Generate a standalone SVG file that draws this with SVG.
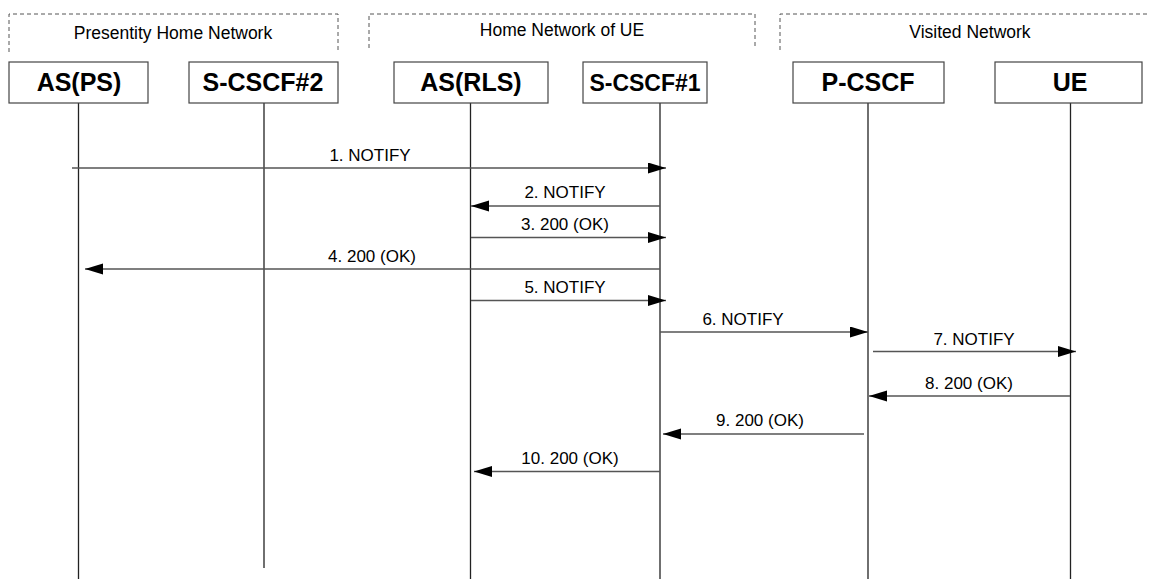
<svg xmlns="http://www.w3.org/2000/svg" width="1149" height="579" viewBox="0 0 1149 579">
<style>
.net{fill:none;stroke:#555;stroke-width:1;stroke-dasharray:4,3}
.nt{font-family:"Liberation Sans",Arial,sans-serif;font-size:17.5px;fill:#000;text-anchor:middle}
.box{fill:#fff;stroke:#444;stroke-width:1.2}
.nl{font-family:"Liberation Sans",Arial,sans-serif;font-size:25px;font-weight:bold;fill:#000;text-anchor:middle}
.life{stroke:#222;stroke-width:1.3}
.msg{stroke:#555;stroke-width:1.6;fill:none;marker-end:url(#ah)}
.ml{font-family:"Liberation Sans",Arial,sans-serif;font-size:17px;fill:#000;text-anchor:middle}
</style>
<defs>
<marker id="ah" markerUnits="userSpaceOnUse" markerWidth="18" markerHeight="12" refX="18" refY="5.5" orient="auto">
<path d="M0,0 L18,5.5 L0,11 z" fill="#000"/>
</marker>
</defs>
<rect width="1149" height="579" fill="#fff"/>
<g id="networks">
<path class="net" d="M9,52 V14 H338 V52"/>
<text class="nt" x="173" y="39">Presentity Home Network</text>
<path class="net" d="M369,48 V14 H755 V48"/>
<text class="nt" x="562" y="36">Home Network of UE</text>
<path class="net" d="M780,50 V14 H1149"/>
<text class="nt" x="970" y="38">Visited Network</text>
</g>
<g id="lifelines">
<line class="life" x1="78.5" y1="103" x2="78.5" y2="579"/>
<line class="life" x1="264" y1="103" x2="264" y2="568"/>
<line class="life" x1="470.5" y1="103" x2="470.5" y2="579"/>
<line class="life" x1="660" y1="103" x2="660" y2="579"/>
<line class="life" x1="868" y1="103" x2="868" y2="579"/>
<line class="life" x1="1070.5" y1="103" x2="1070.5" y2="579"/>
</g>
<g id="AS_PS"><rect class="box" x="9" y="62" width="139" height="41"/><text class="nl" x="79" y="91">AS(PS)</text></g>
<g id="S_CSCF2"><rect class="box" x="189" y="62" width="149" height="41"/><text class="nl" x="263" y="91">S-CSCF#2</text></g>
<g id="AS_RLS"><rect class="box" x="394" y="62" width="154" height="41"/><text class="nl" x="471" y="91">AS(RLS)</text></g>
<g id="S_CSCF1"><rect class="box" x="583" y="62" width="124" height="41"/><text class="nl" x="645" y="91" style="font-size:23px">S-CSCF#1</text></g>
<g id="P_CSCF"><rect class="box" x="793" y="62" width="151" height="41"/><text class="nl" x="868" y="91">P-CSCF</text></g>
<g id="UE"><rect class="box" x="995" y="62" width="147" height="41"/><text class="nl" x="1070" y="91">UE</text></g>
<g id="connectors">
<line class="msg" x1="72" y1="168" x2="666" y2="168"/>
<text class="ml" x="370" y="161">1. NOTIFY</text>
<line class="msg" x1="660" y1="206" x2="471" y2="206"/>
<text class="ml" x="565" y="198">2. NOTIFY</text>
<line class="msg" x1="471" y1="237.5" x2="666" y2="237.5"/>
<text class="ml" x="565" y="230">3. 200 (OK)</text>
<line class="msg" x1="660" y1="269" x2="85" y2="269"/>
<text class="ml" x="372" y="262">4. 200 (OK)</text>
<line class="msg" x1="471" y1="300.5" x2="666" y2="300.5"/>
<text class="ml" x="565" y="293">5. NOTIFY</text>
<line class="msg" x1="660" y1="332" x2="868" y2="332"/>
<text class="ml" x="743" y="325">6. NOTIFY</text>
<line class="msg" x1="873" y1="351.5" x2="1076" y2="351.5"/>
<text class="ml" x="974" y="345">7. NOTIFY</text>
<line class="msg" x1="1070" y1="396" x2="869" y2="396"/>
<text class="ml" x="969" y="389">8. 200 (OK)</text>
<line class="msg" x1="864" y1="434" x2="663" y2="434"/>
<text class="ml" x="760" y="426">9. 200 (OK)</text>
<line class="msg" x1="660" y1="471.5" x2="474" y2="471.5"/>
<text class="ml" x="570" y="464">10. 200 (OK)</text>
</g>
</svg>
